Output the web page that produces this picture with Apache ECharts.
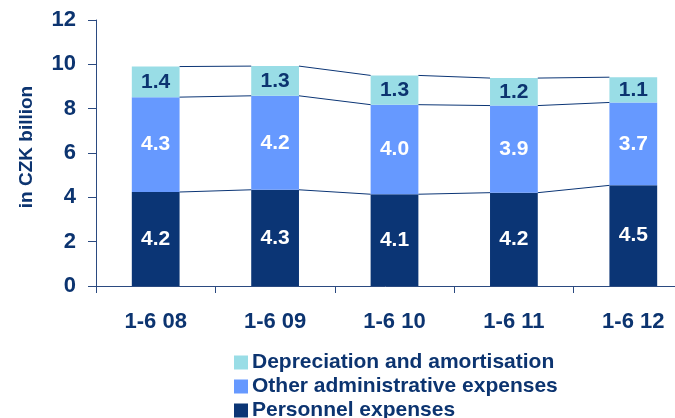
<!DOCTYPE html>
<html>
<head>
<meta charset="utf-8">
<script src="https://cdn.jsdelivr.net/npm/echarts@6/dist/echarts.min.js"></script>
<style>
html,body{margin:0;padding:0;background:#fff;}
#chart{width:675px;height:418px;}
</style>
</head>
<body>
<div id="chart"></div>
<script>
const categories = ['1-6 08', '1-6 09', '1-6 10', '1-6 11', '1-6 12'];
const personnel = [4.24, 4.34, 4.14, 4.21, 4.54];
const otherAdmin = [4.28, 4.24, 4.04, 3.93, 3.74];
const depreciation = [1.38, 1.34, 1.32, 1.24, 1.14];
const yTicks = [0, 2, 4, 6, 8, 10, 12];
const seriesNames = ['Personnel expenses', 'Other administrative expenses', 'Depreciation and amortisation'];

const DARK = '#0b3575';
const MID = '#6699ff';
const LIGHT = '#99dde6';
const TEXT = '#0c3470';
const AXIS = '#2b4a80';
const FONT = "'Liberation Sans', Arial, sans-serif";

const cum1 = personnel.slice();
const cum2 = personnel.map((v, i) => v + otherAdmin[i]);
const cum3 = cum2.map((v, i) => v + depreciation[i]);
const lineData = [];
for (let i = 0; i < categories.length - 1; i++) {
  lineData.push([i, cum1[i], cum2[i], cum3[i], cum1[i + 1], cum2[i + 1], cum3[i + 1]]);
}

const chart = echarts.init(document.getElementById('chart'), null, {renderer: 'canvas'});
const labelCommon = {
  show: true, position: 'inside', fontFamily: FONT, fontWeight: 'bold', fontSize: 21,
  formatter: p => p.value.toFixed(1)
};
const legendText = {color: TEXT, fontFamily: FONT, fontWeight: 'bold', fontSize: 21, padding: [0, 0, 0, -1]};
const legendTops = [347, 371, 395];
const legendOrder = [seriesNames[2], seriesNames[1], seriesNames[0]];
const legends = legendOrder.map((n, k) => ({
  orient: 'vertical', left: 229, top: legendTops[k], itemWidth: 14, itemHeight: 14,
  icon: 'rect', data: [n], textStyle: legendText, selectedMode: false
}));

chart.setOption({
  animation: false,
  textStyle: {fontFamily: FONT},
  grid: {left: 96, width: 597, top: 20, height: 266, containLabel: false, outerBoundsMode: 'none'},
  legend: legends,
  xAxis: {
    type: 'category', data: categories,
    axisLine: {lineStyle: {color: AXIS, width: 1}},
    axisTick: {show: true, length: 7, lineStyle: {color: AXIS}},
    axisLabel: {color: TEXT, fontFamily: FONT, fontWeight: 'bold', fontSize: 22, margin: 25}
  },
  yAxis: {
    type: 'value', min: yTicks[0], max: yTicks[yTicks.length - 1], interval: 2,
    name: 'in CZK billion', nameLocation: 'middle', nameGap: 60, nameRotate: 90,
    nameTextStyle: {color: TEXT, fontFamily: FONT, fontWeight: 'bold', fontSize: 19, padding: [0, 0, 0, 12]},
    axisLine: {show: true, lineStyle: {color: AXIS, width: 1}},
    axisTick: {show: true, length: 8, lineStyle: {color: AXIS}},
    splitLine: {show: false},
    axisLabel: {color: TEXT, fontFamily: FONT, fontWeight: 'bold', fontSize: 22, margin: 20}
  },
  series: [
    {name: seriesNames[0], type: 'bar', stack: 'a', barWidth: '40%', data: personnel,
     itemStyle: {color: DARK}, label: Object.assign({color: '#ffffff'}, labelCommon)},
    {name: seriesNames[1], type: 'bar', stack: 'a', data: otherAdmin,
     itemStyle: {color: MID}, label: Object.assign({color: '#ffffff'}, labelCommon)},
    {name: seriesNames[2], type: 'bar', stack: 'a', data: depreciation,
     itemStyle: {color: LIGHT}, label: Object.assign({color: TEXT}, labelCommon)},
    {
      type: 'custom', data: lineData, silent: true, z: 5,
      encode: {x: 0, y: [1, 2, 3, 4, 5, 6]},
      renderItem: function (params, api) {
        const i = api.value(0);
        const band = api.size([1, 0])[0];
        const half = band * 0.2;
        const children = [];
        for (let k = 1; k <= 3; k++) {
          const p1 = api.coord([i, api.value(k)]);
          const p2 = api.coord([i + 1, api.value(k + 3)]);
          children.push({
            type: 'line',
            shape: {x1: p1[0] + half, y1: p1[1], x2: p2[0] - half, y2: p2[1]},
            style: {stroke: DARK, lineWidth: 1}
          });
        }
        return {type: 'group', children: children};
      }
    }
  ]
});
</script>
</body>
</html>
